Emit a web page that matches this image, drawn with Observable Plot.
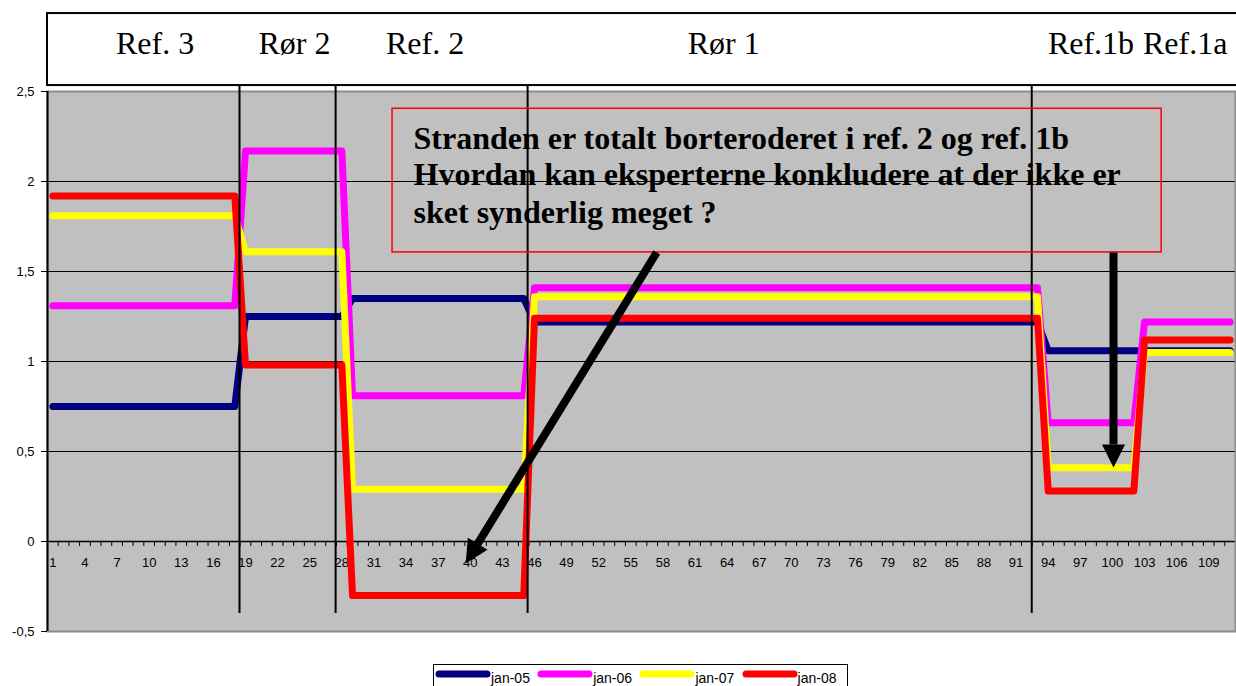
<!DOCTYPE html>
<html>
<head>
<meta charset="utf-8">
<script src="https://cdn.jsdelivr.net/npm/d3@7"></script>
<script src="https://cdn.jsdelivr.net/npm/@observablehq/plot@0.6"></script>
<style>
  html, body { margin: 0; padding: 0; background: #fff; }
  body { width: 1236px; height: 686px; overflow: hidden; position: relative; }
  #chart svg { display: block; }
  #legend { position: absolute; left: 433px; top: 664px; width: 415px; height: 30px;
            border: 1px solid #000; box-sizing: border-box; background: #fff;
            font-family: "Liberation Sans", Arial, sans-serif; font-size: 14px; color: #000; }
  .item { position: absolute; top: 0; height: 28px; }
  .item svg { position: absolute; left: 0; top: 5px; }
  .item span { position: absolute; left: 56px; top: 5px; line-height: 16px; white-space: nowrap; }
</style>
</head>
<body>
<div id="chart"></div>
<div id="legend"></div>
<script>
// ---- data ----
const categories = [
  1,2,3,4,5,6,7,8,9,10,11,12,13,14,15,16,17,18,19,20,
  21,22,23,24,25,26,27,28,29,30,31,32,33,34,35,36,37,38,39,40,
  41,42,43,44,45,46,47,48,49,50,51,52,53,54,55,56,57,58,59,60,
  61,62,63,64,65,66,67,68,69,70,71,72,73,74,75,76,77,78,79,80,
  81,82,83,84,85,86,87,88,89,90,91,92,93,94,95,96,97,98,99,100,
  101,102,103,104,105,106,107,108,109,110,111
];
const series = ["jan-05", "jan-06", "jan-07", "jan-08"];
const seriesColors = ["#000080", "#FF00FF", "#FFFF00", "#FF0000"];

const jan05 = [
  0.75,0.75,0.75,0.75,0.75,0.75,0.75,0.75,0.75,0.75,0.75,0.75,0.75,0.75,0.75,0.75,0.75,0.75,
  1.25,1.25,1.25,1.25,1.25,1.25,1.25,1.25,1.25,1.25,
  1.35,1.35,1.35,1.35,1.35,1.35,1.35,1.35,1.35,1.35,1.35,1.35,1.35,1.35,1.35,1.35,1.35,
  1.22,1.22,1.22,1.22,1.22,1.22,1.22,1.22,1.22,1.22,1.22,1.22,1.22,1.22,1.22,1.22,
  1.22,1.22,1.22,1.22,1.22,1.22,1.22,1.22,1.22,1.22,1.22,1.22,1.22,1.22,1.22,1.22,
  1.22,1.22,1.22,1.22,1.22,1.22,1.22,1.22,1.22,1.22,1.22,1.22,1.22,1.22,1.22,1.22,
  1.06,1.06,1.06,1.06,1.06,1.06,1.06,1.06,1.06,1.06,1.06,1.06,1.06,1.06,1.06,1.06,1.06,1.06
];
const jan06 = [
  1.31,1.31,1.31,1.31,1.31,1.31,1.31,1.31,1.31,1.31,1.31,1.31,1.31,1.31,1.31,1.31,1.31,1.31,
  2.17,2.17,2.17,2.17,2.17,2.17,2.17,2.17,2.17,2.17,
  0.81,0.81,0.81,0.81,0.81,0.81,0.81,0.81,0.81,0.81,0.81,0.81,0.81,0.81,0.81,0.81,0.81,
  1.41,1.41,1.41,1.41,1.41,1.41,1.41,1.41,1.41,1.41,1.41,1.41,1.41,1.41,1.41,1.41,
  1.41,1.41,1.41,1.41,1.41,1.41,1.41,1.41,1.41,1.41,1.41,1.41,1.41,1.41,1.41,1.41,
  1.41,1.41,1.41,1.41,1.41,1.41,1.41,1.41,1.41,1.41,1.41,1.41,1.41,1.41,1.41,1.41,
  0.66,0.66,0.66,0.66,0.66,0.66,0.66,0.66,0.66,
  1.22,1.22,1.22,1.22,1.22,1.22,1.22,1.22,1.22
];
const jan07 = [
  1.81,1.81,1.81,1.81,1.81,1.81,1.81,1.81,1.81,1.81,1.81,1.81,1.81,1.81,1.81,1.81,1.81,1.81,
  1.61,1.61,1.61,1.61,1.61,1.61,1.61,1.61,1.61,1.61,
  0.29,0.29,0.29,0.29,0.29,0.29,0.29,0.29,0.29,0.29,0.29,0.29,0.29,0.29,0.29,0.29,0.29,
  1.36,1.36,1.36,1.36,1.36,1.36,1.36,1.36,1.36,1.36,1.36,1.36,1.36,1.36,1.36,1.36,
  1.36,1.36,1.36,1.36,1.36,1.36,1.36,1.36,1.36,1.36,1.36,1.36,1.36,1.36,1.36,1.36,
  1.36,1.36,1.36,1.36,1.36,1.36,1.36,1.36,1.36,1.36,1.36,1.36,1.36,1.36,1.36,1.36,
  0.41,0.41,0.41,0.41,0.41,0.41,0.41,0.41,0.41,
  1.05,1.05,1.05,1.05,1.05,1.05,1.05,1.05,1.05
];
const jan08 = [
  1.92,1.92,1.92,1.92,1.92,1.92,1.92,1.92,1.92,1.92,1.92,1.92,1.92,1.92,1.92,1.92,1.92,1.92,
  0.98,0.98,0.98,0.98,0.98,0.98,0.98,0.98,0.98,0.98,
  -0.30,-0.30,-0.30,-0.30,-0.30,-0.30,-0.30,-0.30,-0.30,-0.30,-0.30,-0.30,-0.30,-0.30,-0.30,-0.30,-0.30,
  1.24,1.24,1.24,1.24,1.24,1.24,1.24,1.24,1.24,1.24,1.24,1.24,1.24,1.24,1.24,1.24,
  1.24,1.24,1.24,1.24,1.24,1.24,1.24,1.24,1.24,1.24,1.24,1.24,1.24,1.24,1.24,1.24,
  1.24,1.24,1.24,1.24,1.24,1.24,1.24,1.24,1.24,1.24,1.24,1.24,1.24,1.24,1.24,1.24,
  0.28,0.28,0.28,0.28,0.28,0.28,0.28,0.28,0.28,
  1.12,1.12,1.12,1.12,1.12,1.12,1.12,1.12,1.12
];
const seriesValues = [jan05, jan06, jan07, jan08];

const xTickLabels = [1,4,7,10,13,16,19,22,25,28,31,34,37,40,43,46,49,52,55,58,61,64,67,70,73,76,79,82,85,88,91,94,97,100,103,106,109];
const yTicks = [-0.5, 0, 0.5, 1, 1.5, 2, 2.5];
const gridValues = [0.5, 1, 1.5, 2];

// annotations (in category / value units)
const sectionLabels = [
  {label: "Ref. 3", x: 10.55},
  {label: "Rør 2",  x: 23.58},
  {label: "Ref. 2", x: 35.78},
  {label: "Rør 1",  x: 63.68},
  {label: "Ref.1b", x: 98.0},
  {label: "Ref.1a", x: 106.8}
];
const sectionLabelY = 2.706;
const headerBox = [{x1: 0.5, x2: 113, y1: 2.533, y2: 2.933}];
const dividers = [18.44, 27.42, 45.36, 92.46];
const dividerSpan = {y1: -0.4, y2: 2.533};
const noteBox = [{x1: 32.74, x2: 104.6, y1: 1.606, y2: 2.404}];
const noteX = 34.7;
const noteLines = [
  {text: "Stranden er totalt borteroderet i ref. 2 og ref. 1b", y: 2.183},
  {text: "Hvordan kan eksperterne konkludere at der ikke er", y: 1.978},
  {text: "sket synderlig meget ?", y: 1.772}
];
const arrows = [
  {x1: 57.42, y1: 1.606, xb: 40.69, yb: -0.013, x2: 39.57, y2: -0.122, angle: 31.5},
  {x1: 100.1, y1: 1.606, xb: 100.1, yb: 0.539, x2: 100.1, y2: 0.411, angle: 0}
];

// ---- build table ----
const rows = [];
series.forEach((s, k) => {
  seriesValues[k].forEach((v, i) => rows.push({cat: categories[i], value: v, series: s}));
});
const boundaries = categories.slice(0, -1).map(c => c + 0.5);

const arrowHead = {
  draw(context, size) {
    const s = Math.sqrt(size);
    context.moveTo(0, 0);
    context.lineTo(-s / 2, -s);
    context.lineTo(s / 2, -s);
    context.closePath();
  }
};

const fmt = d => String(d).replace(".", ",");
const sans = '"Liberation Sans", Arial, sans-serif';
const serif = '"Liberation Serif", "Times New Roman", serif';

const chart = Plot.plot({
  width: 1236,
  height: 660,
  marginLeft: 47,
  marginRight: 1,
  marginTop: 91,
  marginBottom: 29,
  style: {fontFamily: sans, fontSize: "13px", background: "transparent", color: "#000"},
  x: {type: "linear", domain: [0.5, 111.5], axis: null},
  y: {domain: [-0.5, 2.5], label: null},
  color: {domain: series, range: seriesColors},
  marks: [
    Plot.frame({fill: "#C0C0C0"}),
    Plot.ruleY(gridValues, {stroke: "#000", strokeWidth: 1}),
    Plot.ruleY([0], {stroke: "#000", strokeWidth: 1.5}),
    Plot.ruleX(boundaries, {x: d => d, y1: 0, y2: 0, insetBottom: -5, stroke: "#000", strokeWidth: 1}),
    Plot.text(xTickLabels, {x: d => d, y: 0, dy: 21, text: d => String(d), fontSize: 13, fontFamily: sans, fill: "#000"}),
    Plot.frame({stroke: "#8c8c8c", strokeWidth: 2}),
    Plot.ruleX([0.5], {stroke: "#000", strokeWidth: 2}),
    Plot.axisY({ticks: yTicks, tickFormat: fmt, tickSize: 6, tickPadding: 7, fontSize: 13, label: null}),
    Plot.line(rows, {x: "cat", y: "value", z: "series", stroke: "series",
      strokeWidth: 7, strokeLinejoin: "round", strokeLinecap: "round"}),
    Plot.ruleX(dividers, {x: d => d, y1: dividerSpan.y1, y2: dividerSpan.y2, stroke: "#000", strokeWidth: 2}),
    Plot.rect(noteBox, {x1: "x1", x2: "x2", y1: "y1", y2: "y2", fill: "none", stroke: "#FF0000", strokeWidth: 1.5}),
    Plot.text(noteLines, {x: noteX, y: "y", text: "text", textAnchor: "start", lineAnchor: "bottom",
      fontSize: 32, fontWeight: "bold", fontFamily: serif, fill: "#000"}),
    Plot.link(arrows, {x1: "x1", y1: "y1", x2: "xb", y2: "yb", stroke: "#000", strokeWidth: 8}),
    Plot.dot(arrows, {x: "x2", y: "y2", symbol: arrowHead, r: 13, rotate: "angle", fill: "#000", stroke: "none"}),
    Plot.rect(headerBox, {x1: "x1", x2: "x2", y1: "y1", y2: "y2", fill: "#fff", stroke: "#000", strokeWidth: 2}),
    Plot.text(sectionLabels, {x: "x", y: sectionLabelY, text: "label", lineAnchor: "bottom",
      fontSize: 32, fontFamily: serif, fill: "#000"})
  ]
});
document.getElementById("chart").appendChild(chart);

// ---- legend ----
const legend = document.getElementById("legend");
series.forEach((s, k) => {
  const item = document.createElement("div");
  item.className = "item";
  item.style.left = (1 + k * 102.2) + "px";
  item.innerHTML = `<svg width="56" height="10"><line x1="4" y1="4" x2="52" y2="4" stroke="${seriesColors[k]}" stroke-width="7" stroke-linecap="round"/></svg><span>${s}</span>`;
  legend.appendChild(item);
});
</script>
</body>
</html>
